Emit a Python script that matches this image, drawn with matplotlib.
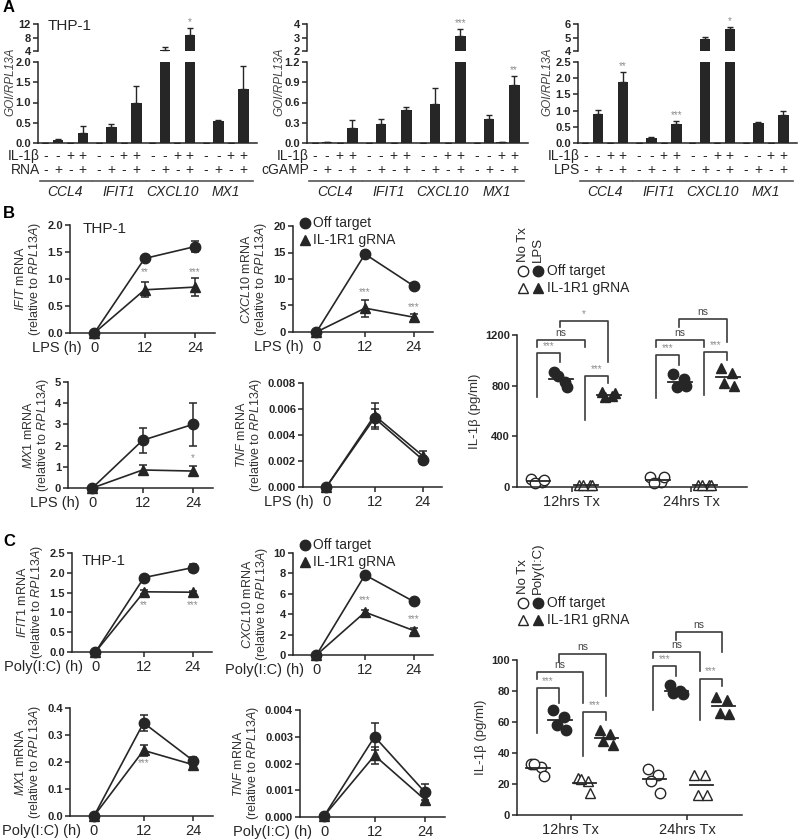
import matplotlib
matplotlib.use('Agg')
import matplotlib.pyplot as plt
from matplotlib.lines import Line2D
from matplotlib.transforms import blended_transform_factory
import numpy as np

plt.rcParams['font.family'] = ['Liberation Sans', 'DejaVu Sans']
plt.rcParams['mathtext.fontset'] = 'custom'
plt.rcParams['mathtext.rm'] = 'Liberation Sans'
plt.rcParams['mathtext.it'] = 'Liberation Sans:italic'
plt.rcParams['mathtext.bf'] = 'Liberation Sans:bold'

W, H = 800, 840
INK = '#262626'
GREY = '#8c8c8c'

# ---------------- panel A: GOI/RPL13A bars ----------------
genes = ['CCL4', 'IFIT1', 'CXCL10', 'MX1']
il1b_row = ['-', '-', '+', '+']
stim_row = ['-', '+', '-', '+']

rna_mean = [[0.005, 0.08, 0.005, 0.25],
            [0.005, 0.40, 0.005, 1.00],
            [0.005, 4.40, 0.005, 8.60],
            [0.005, 0.55, 0.005, 1.33]]
rna_err = [[0, 0.02, 0, 0.17],
           [0, 0.06, 0, 0.40],
           [0, 0.90, 0, 2.20],
           [0, 0.03, 0, 0.58]]
rna_stars = [(2, 3, '*')]

cgamp_mean = [[0.003, 0.01, 0.003, 0.22],
              [0.003, 0.28, 0.003, 0.49],
              [0.003, 0.58, 0.003, 3.10],
              [0.003, 0.36, 0.01, 0.86]]
cgamp_err = [[0, 0, 0, 0.12],
             [0, 0.08, 0, 0.05],
             [0, 0.24, 0, 0.50],
             [0, 0.05, 0, 0.13]]
cgamp_stars = [(2, 3, '***'), (3, 3, '**')]

lpsA_mean = [[0.005, 0.88, 0.005, 1.88],
             [0.005, 0.15, 0.005, 0.60],
             [0.005, 4.90, 0.005, 5.60],
             [0.005, 0.63, 0.01, 0.85]]
lpsA_err = [[0, 0.13, 0, 0.30],
            [0, 0.04, 0, 0.07],
            [0, 0.17, 0, 0.17],
            [0, 0.03, 0, 0.13]]
lpsA_stars = [(0, 3, '**'), (1, 3, '***'), (2, 3, '*')]

# ---------------- panels B/C: time courses ----------------
hours = [0, 12, 24]

b_ifit_off, b_ifit_off_err = [0, 1.38, 1.60], [0, 0.03, 0.10]
b_ifit_ko, b_ifit_ko_err = [0, 0.80, 0.85], [0, 0.14, 0.16]
b_cxcl_off, b_cxcl_off_err = [0, 14.7, 8.7], [0, 0.6, 0.6]
b_cxcl_ko, b_cxcl_ko_err = [0, 4.5, 2.8], [0, 1.6, 0.6]
b_mx1_off, b_mx1_off_err = [0, 2.25, 3.0], [0, 0.6, 1.0]
b_mx1_ko, b_mx1_ko_err = [0, 0.85, 0.80], [0, 0.25, 0.25]
b_tnf_off, b_tnf_off_err = [0, 0.0053, 0.0021], [0, 0.0007, 0.0003]
b_tnf_ko, b_tnf_ko_err = [0, 0.0055, 0.0024], [0, 0.0010, 0.0004]

c_ifit_off, c_ifit_off_err = [0, 1.88, 2.13], [0, 0.03, 0.10]
c_ifit_ko, c_ifit_ko_err = [0, 1.52, 1.51], [0, 0.05, 0.04]
c_cxcl_off, c_cxcl_off_err = [0, 7.85, 5.25], [0, 0.15, 0.15]
c_cxcl_ko, c_cxcl_ko_err = [0, 4.2, 2.4], [0, 0.25, 0.25]
c_mx1_off, c_mx1_off_err = [0, 0.345, 0.205], [0, 0.03, 0.015]
c_mx1_ko, c_mx1_ko_err = [0, 0.243, 0.19], [0, 0.02, 0.01]
c_tnf_off, c_tnf_off_err = [0.00005, 0.0030, 0.00093], [0, 0.0005, 0.0003]
c_tnf_ko, c_tnf_ko_err = [0.00005, 0.0023, 0.00065], [0, 0.0003, 0.0002]

# ---------------- IL-1b ELISA (pg/ml) ----------------
# group order: No Tx/Off target, stim/Off target, No Tx/IL-1R1 gRNA, stim/IL-1R1 gRNA
times = ['12hrs Tx', '24hrs Tx']
b_il1b = [[[60, 40, 30, 55], [910, 830, 875, 790], [15, 15, 15, 15], [750, 720, 710, 740]],
          [[80, 40, 35, 80], [890, 850, 790, 800], [15, 15, 15, 15], [940, 900, 820, 800]]]
c_il1b = [[[33, 31, 33, 25], [68, 63, 58, 55], [24, 22, 23, 14], [55, 52, 48, 45]],
          [[30, 26, 22, 14], [84, 80, 79, 78], [26, 26, 13, 13], [76, 74, 66, 65]]]
# (time, group a, group b, bracket top, left leg end, right leg end, label)
b_brackets = [(0, 0, 1, 1058, 710, 990, '***'), (0, 0, 2, 1160, 1105, 1105, 'ns'),
              (0, 2, 3, 876, 530, 820, '***'), (0, 1, 3, 1310, 1263, 987, '*'),
              (1, 0, 1, 1042, 703, 963, '***'), (1, 0, 2, 1160, 1105, 1105, 'ns'),
              (1, 2, 3, 1066, 726, 1000, '***'), (1, 1, 3, 1326, 1263, 1145, 'ns')]
c_brackets = [(0, 0, 1, 82, 53, 72, '***'), (0, 0, 2, 92, 88, 72, 'ns'),
              (0, 2, 3, 66.5, 38, 61, '***'), (0, 1, 3, 104, 99, 77, 'ns'),
              (1, 0, 1, 96, 68, 90, '***'), (1, 0, 2, 105, 101, 93, 'ns'),
              (1, 2, 3, 88, 61, 83, '***'), (1, 1, 3, 118, 113, 105, 'ns')]

fig = plt.figure(figsize=(W / 100, H / 100), dpi=100)


def fx(x):
    return x / W


def fy(y):
    return 1 - y / H


def add_ax(x0, y0, x1, y1):
    ax = fig.add_axes([x0 / W, 1 - y1 / H, (x1 - x0) / W, (y1 - y0) / H])
    ax.patch.set_alpha(0)
    ax.spines[['top', 'right']].set_visible(False)
    for s in ax.spines.values():
        s.set_color(INK)
        s.set_linewidth(1.1)
    ax.tick_params(colors=INK, width=1.1, length=3.5, pad=1.5)
    return ax


def set_yticks(ax, ticks, fmt):
    ax.set_yticks(ticks)
    ax.set_yticklabels([fmt.format(t) for t in ticks], fontsize=8, fontweight='bold')


GROUP_STEP = 4.3


def bar_panel(x0, x1, stim, means, errs, stars, top_lim, top_ticks, bot_lim, bot_ticks, bot_fmt, ylab_x):
    top = add_ax(x0, 24, x1, 51)
    bot = add_ax(x0, 62, x1, 143)
    for ax, lim in ((top, top_lim), (bot, bot_lim)):
        for g in range(len(genes)):
            xs = g * GROUP_STEP + np.arange(4)
            ax.bar(xs, means[g], width=0.85, color=INK, yerr=[np.zeros(4), errs[g]],
                   error_kw=dict(ecolor=INK, elinewidth=1, capsize=2.5, capthick=1))
        ax.set_xlim(-0.6, 17.0)
        ax.set_ylim(*lim)
        ax.set_xticks([])
    top.spines['bottom'].set_visible(False)
    set_yticks(top, top_ticks, '{:g}')
    set_yticks(bot, bot_ticks, bot_fmt)

    for g, j, s in stars:
        v = means[g][j] + errs[g][j]
        ax = top if v > bot_lim[1] else bot
        ax.annotate(s, xy=(g * GROUP_STEP + j, v), xytext=(0, 1), textcoords='offset points',
                    ha='center', va='bottom', fontsize=7, color=GREY, annotation_clip=False)

    tr = blended_transform_factory(bot.transData, fig.transFigure)
    for g in range(len(genes)):
        xs = g * GROUP_STEP + np.arange(4)
        for j in range(4):
            bot.text(xs[j], fy(156), il1b_row[j], transform=tr, ha='center', va='center', fontsize=10, color=INK)
            bot.text(xs[j], fy(170), stim_row[j], transform=tr, ha='center', va='center', fontsize=10, color=INK)
        bot.plot([xs[0] - 0.45, xs[3] + 0.75], [fy(181)] * 2, transform=tr, clip_on=False, color='#555555', lw=1.2)
        bot.text(xs.mean() + 0.1, fy(192), genes[g], transform=tr, ha='center', va='center',
                 fontsize=10, style='italic', color=INK)
    fig.text(fx(x0 + 2), fy(156), 'IL-1β', ha='right', va='center', fontsize=10, color=INK)
    fig.text(fx(x0 + 2), fy(170), stim, ha='right', va='center', fontsize=10, color=INK)
    fig.text(fx(ylab_x), fy(82), 'GOI/RPL13A', rotation=90, ha='center', va='center',
             fontsize=8.5, style='italic', color='#444444')


def line_panel(box, off, off_err, ko, ko_err, ylim, yticks, yfmt, gene, xlab, stars):
    ax = add_ax(*box)
    kw = dict(color=INK, lw=1.2, ms=7.5, elinewidth=1.1, capsize=3, capthick=1.1, clip_on=False)
    ax.errorbar(hours, off, yerr=off_err, marker='o', **kw)
    ax.errorbar(hours, ko, yerr=ko_err, marker='^', **kw)
    ax.set_xlim(-5.8, 28.8)
    ax.set_ylim(*ylim)
    ax.set_xticks(hours)
    ax.set_xticklabels([str(h) for h in hours], fontsize=10.5)
    ax.tick_params(axis='x', pad=2.5)
    set_yticks(ax, yticks, yfmt)
    ax.set_ylabel('$\\it{' + gene + '}$ mRNA\n(relative to $\\it{RPL13A}$)', fontsize=9,
                  labelpad=3, color='#333333', linespacing=1.0)
    ax.annotate(xlab, xy=(0, 0), xycoords=('data', 'axes fraction'), xytext=(-9, -6),
                textcoords='offset points', ha='right', va='top', fontsize=10.5, color=INK)
    for h, y, s in stars:
        ax.text(h, y, s, ha='center', va='center', fontsize=7, color=GREY)
    return ax


def marker(x, y, m, filled):
    fig.add_artist(Line2D([fx(x)], [fy(y)], marker=m, ms=7.5, transform=fig.transFigure,
                          mfc=INK if filled else 'white', mec=INK, mew=1.0, ls='none'))


def line_legend(x, y):
    marker(x, y, 'o', True)
    marker(x, y + 17, '^', True)
    fig.text(fx(x + 8), fy(y), 'Off target', ha='left', va='center', fontsize=10, color=INK)
    fig.text(fx(x + 8), fy(y + 17), 'IL-1R1 gRNA', ha='left', va='center', fontsize=10, color=INK)


GROUP_OFFS = [-0.29, -0.10, 0.11, 0.30]
JITTER = [-0.05, 0.04, -0.02, 0.06]
G_MARK = [('o', False), ('o', True), ('^', False), ('^', True)]


def il1b_panel(box, data, brackets, ylim, yticks, stim, leg_y):
    ax = add_ax(*box)
    for t in range(2):
        for k in range(4):
            xc = t + GROUP_OFFS[k]
            m, filled = G_MARK[k]
            ax.plot(xc + np.array(JITTER), data[t][k], ls='none', marker=m, ms=7.5,
                    mfc=INK if filled else 'white', mec=INK, mew=1.0, clip_on=False)
            mean = np.mean(data[t][k])
            ax.plot([xc - 0.09, xc + 0.11], [mean, mean], color=INK, lw=1.3)
    for t, a, b, top, yl, yr, lab in brackets:
        xl, xr = t + GROUP_OFFS[a], t + GROUP_OFFS[b]
        ax.plot([xl, xl, xr, xr], [yl, top, top, yr], color='#3c3c3c', lw=1.2, clip_on=False)
        ax.annotate(lab, xy=((xl + xr) / 2, top), xytext=(0, 1.5), textcoords='offset points',
                    ha='center', va='bottom', fontsize=7.5 if lab == 'ns' else 7,
                    color='#444444' if lab == 'ns' else GREY, annotation_clip=False)
    ax.set_xlim(-0.46, 1.47)
    ax.set_ylim(*ylim)
    ax.set_xticks([0, 1])
    ax.set_xticklabels(times, fontsize=10.5)
    ax.tick_params(axis='x', pad=2.5)
    set_yticks(ax, yticks, '{:g}')
    ax.set_ylabel('IL-1β (pg/ml)', fontsize=9.5, labelpad=3, color='#333333')
    # legend
    fig.text(fx(523), fy(leg_y - 9), 'No Tx', rotation=90, ha='center', va='bottom', fontsize=9.5, color=INK)
    fig.text(fx(538), fy(leg_y - 9), stim, rotation=90, ha='center', va='bottom', fontsize=9.5, color=INK)
    marker(523, leg_y, 'o', False)
    marker(538, leg_y, 'o', True)
    marker(523, leg_y + 17, '^', False)
    marker(538, leg_y + 17, '^', True)
    fig.text(fx(547), fy(leg_y), 'Off target', ha='left', va='center', fontsize=10, color=INK)
    fig.text(fx(547), fy(leg_y + 17), 'IL-1R1 gRNA', ha='left', va='center', fontsize=10, color=INK)


# panel letters
for letter, y in [('A', 7), ('B', 214), ('C', 541)]:
    fig.text(fx(3), fy(y), letter, fontsize=12, fontweight='bold', ha='left', va='center')

# A
bar_panel(38, 257, 'RNA', rna_mean, rna_err, rna_stars, (4, 12), [4, 8, 12],
          (0, 2.0), [0, 0.5, 1.0, 1.5, 2.0], '{:.1f}', 10)
bar_panel(307, 528, 'cGAMP', cgamp_mean, cgamp_err, cgamp_stars, (2, 4), [2, 3, 4],
          (0, 1.2), [0, 0.3, 0.6, 0.9, 1.2], '{:.1f}', 279)
bar_panel(578, 797, 'LPS', lpsA_mean, lpsA_err, lpsA_stars, (4, 6), [4, 5, 6],
          (0, 2.5), [0, 0.5, 1.0, 1.5, 2.0, 2.5], '{:.1f}', 547)
fig.text(fx(48), fy(26), 'THP-1', fontsize=11, ha='left', va='center', color=INK)

# B
line_panel((70, 225, 215, 333), b_ifit_off, b_ifit_off_err, b_ifit_ko, b_ifit_ko_err,
           (0, 2.0), [0, 0.5, 1.0, 1.5, 2.0], '{:.1f}', 'IFIT', 'LPS (h)',
           [(12, 1.13, '**'), (24, 1.13, '***')])
line_panel((293, 226, 433, 332), b_cxcl_off, b_cxcl_off_err, b_cxcl_ko, b_cxcl_ko_err,
           (0, 20), [0, 5, 10, 15, 20], '{:g}', 'CXCL10', 'LPS (h)',
           [(12, 7.6, '***'), (24, 4.7, '***')])
line_panel((68, 382, 213, 488), b_mx1_off, b_mx1_off_err, b_mx1_ko, b_mx1_ko_err,
           (0, 5), [0, 1, 2, 3, 4, 5], '{:g}', 'MX1', 'LPS (h)',
           [(24, 1.4, '*')])
line_panel((303, 383, 442, 487), b_tnf_off, b_tnf_off_err, b_tnf_ko, b_tnf_ko_err,
           (0, 0.008), [0, 0.002, 0.004, 0.006, 0.008], '{:.3f}', 'TNF', 'LPS (h)', [])
fig.text(fx(83), fy(229), 'THP-1', fontsize=11, ha='left', va='center', color=INK)
line_legend(305, 223)
il1b_panel((517, 335, 747, 487), b_il1b, b_brackets, (0, 1200), [0, 400, 800, 1200], 'LPS', 271)

# C
line_panel((72, 553, 212, 652), c_ifit_off, c_ifit_off_err, c_ifit_ko, c_ifit_ko_err,
           (0, 2.5), [0, 0.5, 1.0, 1.5, 2.0, 2.5], '{:.1f}', 'IFIT1', 'Poly(I:C) (h)',
           [(12, 1.18, '**'), (24, 1.18, '***')])
line_panel((293, 553, 433, 655), c_cxcl_off, c_cxcl_off_err, c_cxcl_ko, c_cxcl_ko_err,
           (0, 10), [0, 2, 4, 6, 8, 10], '{:g}', 'CXCL10', 'Poly(I:C) (h)',
           [(12, 5.4, '***'), (24, 3.5, '***')])
line_panel((70, 708, 213, 816), c_mx1_off, c_mx1_off_err, c_mx1_ko, c_mx1_ko_err,
           (0, 0.4), [0, 0.1, 0.2, 0.3, 0.4], '{:.1f}', 'MX1', 'Poly(I:C) (h)',
           [(12, 0.196, '***')])
line_panel((300, 710, 445, 817), c_tnf_off, c_tnf_off_err, c_tnf_ko, c_tnf_ko_err,
           (0, 0.004), [0, 0.001, 0.002, 0.003, 0.004], '{:.3f}', 'TNF', 'Poly(I:C) (h)', [])
fig.text(fx(82), fy(561), 'THP-1', fontsize=11, ha='left', va='center', color=INK)
line_legend(305, 545)
il1b_panel((517, 660, 742, 815), c_il1b, c_brackets, (0, 100), [0, 20, 40, 60, 80, 100], 'Poly(I:C)', 603)

fig.savefig('out.png', dpi=100)
